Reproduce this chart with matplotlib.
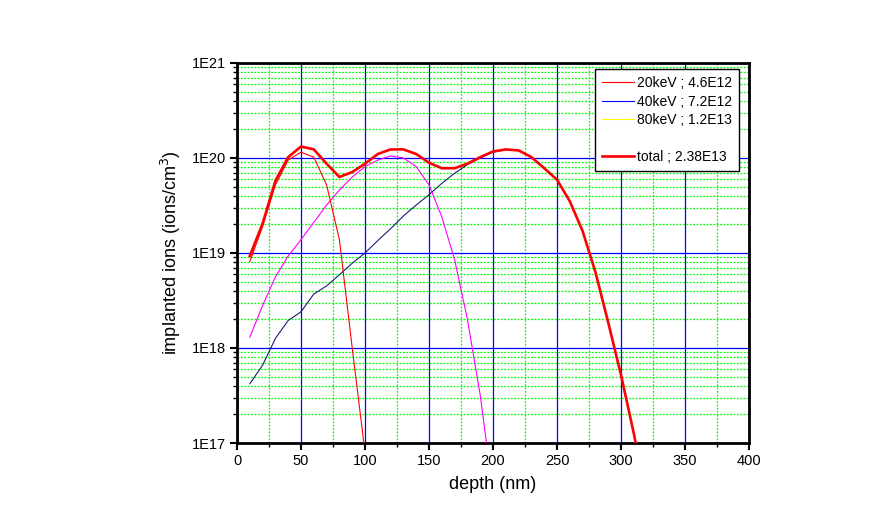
import matplotlib
matplotlib.use("Agg")
import matplotlib.pyplot as plt
import numpy as np
from matplotlib.lines import Line2D
from matplotlib.ticker import MultipleLocator, LogLocator, FuncFormatter, NullFormatter

plt.rcParams['font.family'] = ['Liberation Sans', 'DejaVu Sans']

# depth (nm)
depth_20 = [10, 20, 30, 40, 50, 60, 70, 80, 90, 100]
ions_20 = [8.1e18, 1.9e19, 5.2e19, 9.5e19, 1.15e20, 1.02e20, 5.2e19, 1.38e19, 1.0e18, 8e16]

depth_40 = [10, 20, 30, 40, 50, 60, 70, 80, 90, 100, 110, 120, 130, 140, 150, 160, 170, 180, 190, 200]
ions_40 = [1.3e18, 2.8e18, 5.6e18, 9.3e18, 1.38e19, 2.1e19, 3.2e19, 4.6e19, 6.3e19, 8.1e19,
           9.5e19, 1.05e20, 1.0e20, 8.1e19, 5.2e19, 2.4e19, 8.5e18, 2.0e18, 3.2e17, 3e16]

depth_80 = [10, 20, 30, 40, 50, 60, 70, 80, 90, 100, 110, 120, 130, 140, 150, 160,
            170, 180, 190, 200, 210, 220, 230, 240, 250, 260, 270, 280, 290, 300, 310, 320]
ions_80 = [4.2e17, 6.6e17, 1.26e18, 1.95e18, 2.4e18, 3.7e18, 4.5e18, 5.9e18, 7.8e18, 1.0e19,
           1.35e19, 1.8e19, 2.45e19, 3.2e19, 4.1e19, 5.4e19, 6.9e19, 8.5e19, 1.0e20, 1.15e20,
           1.22e20, 1.2e20, 1.02e20, 7.8e19, 5.9e19, 3.5e19, 1.7e19, 6.3e18, 1.86e18, 5.2e17,
           1.26e17, 2.5e16]

depth_tot = depth_80
ions_tot = [9.3e18, 2.04e19, 5.75e19, 1.02e20, 1.32e20, 1.23e20, 8.7e19, 6.3e19, 7.1e19, 8.7e19,
            1.10e20, 1.23e20, 1.23e20, 1.10e20, 8.9e19, 7.8e19, 7.8e19, 8.7e19, 1.02e20, 1.17e20,
            1.23e20, 1.20e20, 1.02e20, 7.8e19, 5.9e19, 3.5e19, 1.7e19, 6.3e18, 1.86e18, 5.2e17,
            1.26e17, 2.5e16]

legend_labels = ["20keV ; 4.6E12", "40keV ; 7.2E12", "80keV ; 1.2E13", "total ; 2.38E13"]

fig = plt.figure(figsize=(8.92, 5.15), dpi=100)
ax = fig.add_axes([0.2657, 0.1398, 0.574, 0.738])

ax.plot(depth_80, ions_80, color='#1c1c78', lw=0.8, zorder=3)
ax.plot(depth_40, ions_40, color='#ff00ff', lw=0.8, zorder=3)
ax.plot(depth_20, ions_20, color='#ff0000', lw=0.8, zorder=3)
ax.plot(depth_tot, ions_tot, color='#ff0000', lw=1.9, zorder=4)

ax.set_yscale('log')
ax.set_xlim(0, 400)
ax.set_ylim(1e17, 1e21)
ax.xaxis.set_major_locator(MultipleLocator(50))
ax.xaxis.set_minor_locator(MultipleLocator(25))
ax.yaxis.set_major_locator(LogLocator(base=10, numticks=10))
ax.yaxis.set_minor_locator(LogLocator(base=10, subs=np.arange(2, 10), numticks=20))
ax.yaxis.set_major_formatter(FuncFormatter(lambda v, p: "1E%d" % round(np.log10(v))))
ax.yaxis.set_minor_formatter(NullFormatter())

ax.set_axisbelow(True)
ax.grid(which='minor', color='#00ff00', linestyle=(0, (1.5, 1.2)), linewidth=0.9)
ax.grid(which='major', color='#0000ff', linestyle='-', linewidth=0.9)

for s in ax.spines.values():
    s.set_linewidth(2)
ax.tick_params(which='major', direction='out', length=5, width=1.5, labelsize=10.5, pad=3)
ax.tick_params(which='minor', direction='out', length=3, width=1)
ax.tick_params(top=False, right=False, which='both')

ax.set_xlabel("depth (nm)", fontsize=13, labelpad=6)
ax.set_ylabel("implanted ions (ions/cm$^3$)", fontsize=13, labelpad=6)

handles = [Line2D([], [], color='#ff0000', lw=0.8),
           Line2D([], [], color='#0000ff', lw=0.8),
           Line2D([], [], color='#ffff00', lw=0.8),
           Line2D([], [], color='none'),
           Line2D([], [], color='#ff0000', lw=1.9)]
labels = legend_labels[:3] + [" "] + legend_labels[3:]
leg = ax.legend(handles, labels, loc='upper left', bbox_to_anchor=(0.699, 0.984),
                borderaxespad=0, fontsize=10, handlelength=2.3, handletextpad=0.2,
                labelspacing=0.33, borderpad=0.5, fancybox=False, framealpha=1,
                edgecolor='black')
leg.get_frame().set_linewidth(1)
leg.set_zorder(10)

fig.savefig("out.png", dpi=100)
